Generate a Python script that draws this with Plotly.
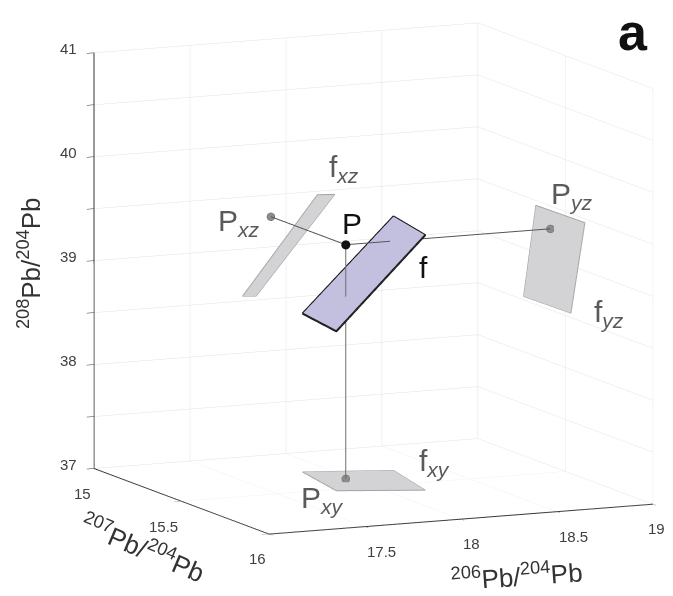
import plotly.graph_objects as go

# ---- data ----
P = [17.91, 15.44, 39.30]                 # point P (206/204, 207/204, 208/204)
f_x = [17.84, 18.25, 18.16, 17.77]         # parallelogram f vertices
f_y = [15.27, 15.34, 15.62, 15.54]
f_z = [38.54, 39.46, 39.47, 38.55]

x_range = [17, 19]
y_range = [15, 16]
z_range = [37, 41]
x_ticks = [17, 17.5, 18, 18.5, 19]
x_ticktext = ["", "17.5", "18", "18.5", "19"]
y_ticks = [15, 15.5, 16]
y_ticktext = ["15", "15.5", "16"]
z_ticks = [37, 37.5, 38, 38.5, 39, 39.5, 40, 40.5, 41]
z_ticktext = ["37", "", "38", "", "39", "", "40", "", "41"]

x_title = "<sup>206</sup>Pb/<sup>204</sup>Pb"
y_title = "<sup>207</sup>Pb/<sup>204</sup>Pb"
z_title = "<sup>208</sup>Pb/<sup>204</sup>Pb"


def inside(rng, frac, side):
    """value just inside the box at the given side of an axis range"""
    d = frac * (rng[1] - rng[0])
    return rng[0] + d if side == 0 else rng[1] - d


# projection planes (floor / back walls) and projected points, just inside the box
z_floor, y_back, x_right = inside(z_range, 0.004, 0), inside(y_range, 0.004, 0), inside(x_range, 0.004, 1)
z_pt, y_pt, x_pt = inside(z_range, 0.012, 0), inside(y_range, 0.012, 0), inside(x_range, 0.012, 1)

FONT = "Liberation Sans, Arial, Helvetica, sans-serif"

fig = go.Figure()

flat = dict(ambient=1, diffuse=0, specular=0, roughness=1, fresnel=0)


def polygon(xs, ys, zs, fill, edge, ew):
    fig.add_trace(go.Mesh3d(x=xs, y=ys, z=zs, i=[0, 0], j=[1, 2], k=[2, 3],
                            color=fill, opacity=1, flatshading=True,
                            lighting=flat, hoverinfo="skip", showscale=False))
    fig.add_trace(go.Scatter3d(x=xs + xs[:1], y=ys + ys[:1], z=zs + zs[:1],
                               mode="lines", line=dict(color=edge, width=ew),
                               hoverinfo="skip", showlegend=False))


n = len(f_x)
# projections of f
polygon(f_x, f_y, [z_floor] * n, "#d3d3d6", "#a3a3a3", 2)
polygon(f_x, [y_back] * n, f_z, "#d3d3d6", "#a3a3a3", 2)
polygon([x_right] * n, f_y, f_z, "#d3d3d6", "#a3a3a3", 2)
# main parallelogram f
polygon(f_x, f_y, f_z, "#c3c0df", "#151515", 4)

# projection lines from P
pxy = [P[0], P[1], z_pt]
pxz = [P[0], y_pt, P[2]]
pyz = [x_pt, P[1], P[2]]
for q, col in [(pxy, "#6e6e6e"), (pxz, "#555555"), (pyz, "#555555")]:
    fig.add_trace(go.Scatter3d(x=[P[0], q[0]], y=[P[1], q[1]], z=[P[2], q[2]],
                               mode="lines", line=dict(color=col, width=2),
                               hoverinfo="skip", showlegend=False))

# projected points
fig.add_trace(go.Scatter3d(x=[pxy[0], pxz[0], pyz[0]], y=[pxy[1], pxz[1], pyz[1]],
                           z=[pxy[2], pxz[2], pyz[2]], mode="markers",
                           marker=dict(size=4.6, color="#8c8c8c",
                                       line=dict(color="#666666", width=1)),
                           hoverinfo="skip", showlegend=False))
# P
fig.add_trace(go.Scatter3d(x=[P[0]], y=[P[1]], z=[P[2]], mode="markers",
                           marker=dict(size=5.3, color="#111111"),
                           hoverinfo="skip", showlegend=False))

lab_font = dict(family=FONT, size=30, color="#5a5a5a")
blk_font = dict(family=FONT, size=30, color="#111111")
tick_font = dict(family=FONT, size=15, color="#404040")


def lab(pt, text, dx, dy, font, xa="center", ya="middle"):
    return dict(x=pt[0], y=pt[1], z=pt[2], text=text, showarrow=False,
                xshift=dx, yshift=dy, font=font, xanchor=xa, yanchor=ya)


annotations = [
    lab(P, "P", 6, 21, blk_font),
    lab([f_x[2], f_y[2], f_z[2]], "f", -2, -33, blk_font),
    lab(pxz, "P<sub><i>xz</i></sub>", -32, -6, lab_font),
    lab([f_x[1], y_back, f_z[1]], "f<sub><i>xz</i></sub>", 9, 26, lab_font),
    lab(pyz, "P<sub><i>yz</i></sub>", 22, 33, lab_font),
    lab([x_right, f_y[3], f_z[3]], "f<sub><i>yz</i></sub>", 38, -1, lab_font),
    lab(pxy, "P<sub><i>xy</i></sub>", -23, -21, lab_font),
    lab([f_x[1], f_y[1], z_floor], "f<sub><i>xy</i></sub>", 41, 8, lab_font),
]
# tick labels (horizontal, as in the reference)
for v, t in zip(x_ticks, x_ticktext):
    if t:
        # the last label would run past the scene's right edge, so pull it in a little
        dx = -7 if v == x_range[1] else 0
        annotations.append(lab([v, y_range[1], z_range[0]], t, dx, -25, tick_font, xa="left"))
for v, t in zip(y_ticks, y_ticktext):
    if t:
        annotations.append(lab([x_range[0], v, z_range[0]], t, -1, -25, tick_font, xa="right"))
for v, t in zip(z_ticks, z_ticktext):
    if t:
        annotations.append(lab([x_range[0], y_range[0], v], t, -15, 4, tick_font, xa="right"))

axis_common = dict(showbackground=False, showgrid=True, gridcolor="#e2e2e2",
                   gridwidth=1, zeroline=False, showline=True, linecolor="#333333",
                   linewidth=2, ticks="outside", ticklen=8, tickcolor="#333333",
                   showticklabels=False, showspikes=False, title=dict(text=""))
title_font = dict(family=FONT, size=26, color="#333333")

eye_dir = (-0.409, -0.897, 0.171)
k = 2.0
box = 1.5597

# the page body adds an 8px margin, so the figure is sized to avoid scrollbars
fig.update_layout(
    width=665, height=580,
    margin=dict(l=0, r=0, t=0, b=0),
    paper_bgcolor="white",
    showlegend=False,
    hovermode=False,
    scene=dict(
        domain=dict(x=[0.0989, 1.0], y=[0.0678, 1.0]),
        xaxis=dict(range=x_range, tickvals=x_ticks, **axis_common),
        yaxis=dict(range=[y_range[1], y_range[0]], tickvals=y_ticks, **axis_common),
        zaxis=dict(range=z_range, tickvals=z_ticks, **axis_common),
        aspectmode="manual", aspectratio=dict(x=box, y=box, z=box),
        camera=dict(eye=dict(x=eye_dir[0] * k, y=eye_dir[1] * k, z=eye_dir[2] * k),
                    up=dict(x=0, y=0, z=1), center=dict(x=0, y=0, z=0),
                    projection=dict(type="orthographic")),
        annotations=annotations,
        bgcolor="white",
    ),
    annotations=[
        dict(x=0.9391, y=1.0123, xref="paper", yref="paper", text="<b>a</b>",
             showarrow=False, xanchor="center", yanchor="top",
             font=dict(family=FONT, size=52, color="#111111")),
        dict(x=0.0316, y=0.5602, xref="paper", yref="paper", text=z_title,
             showarrow=False, textangle=-90, xanchor="center", yanchor="middle",
             font=title_font),
        dict(x=0.2024, y=0.0700, xref="paper", yref="paper", text=y_title,
             showarrow=False, textangle=23, xanchor="center", yanchor="middle",
             font=title_font),
        dict(x=0.7651, y=0.0207, xref="paper", yref="paper", text=x_title,
             showarrow=False, textangle=-4, xanchor="center", yanchor="middle",
             font=title_font),
    ],
)

fig.write_html("out.html")
